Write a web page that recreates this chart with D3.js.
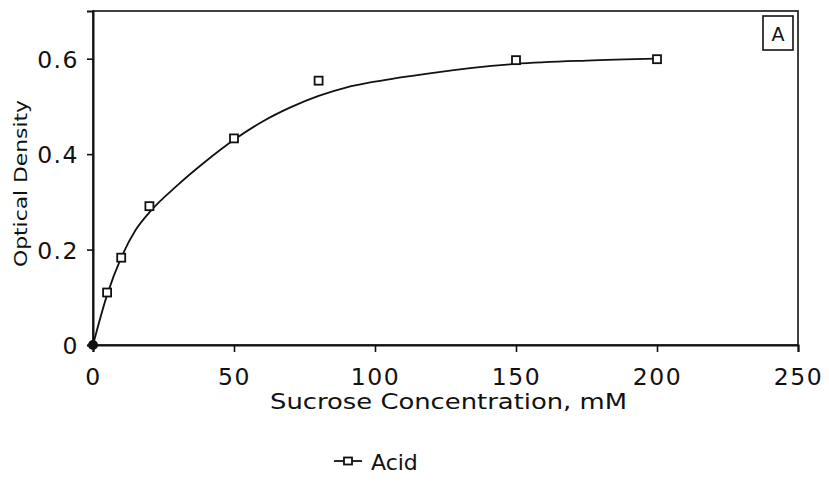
<!DOCTYPE html>
<html>
<head>
<meta charset="utf-8">
<script src="https://cdn.jsdelivr.net/npm/d3@7"></script>
<style>
  body { margin: 0; background: #fff; }
  text { font-family: "DejaVu Sans", sans-serif; fill: #111; }
</style>
</head>
<body>
<div id="chart"></div>
<script>
// measured points
var sucrose = [0, 5, 10, 20, 50, 80, 150, 200];
var density = [0, 0.11, 0.183, 0.291, 0.433, 0.554, 0.597, 0.599];

// fitted curve
var fitX = [0, 5, 10, 15, 20, 30, 40, 50, 60, 70, 80, 90, 100, 120, 150, 175, 200];
var fitY = [0, 0.105, 0.183, 0.24, 0.278, 0.335, 0.385, 0.43, 0.468, 0.498, 0.522, 0.54, 0.552, 0.57, 0.589, 0.596, 0.6];

var xTicks = [0, 50, 100, 150, 200, 250];
var yTicks = [0, 0.2, 0.4, 0.6];

var width = 829, height = 490;
var margin = {top: 11, right: 31, bottom: 145, left: 93};

var svg = d3.select("#chart").append("svg")
    .attr("width", width)
    .attr("height", height);

var x = d3.scaleLinear().domain([0, 250]).range([margin.left, width - margin.right]);
var y = d3.scaleLinear().domain([0, 0.7]).range([height - margin.bottom, margin.top]);

// frame
svg.append("rect")
    .attr("x", x(0)).attr("y", y(0.7))
    .attr("width", x(250) - x(0)).attr("height", y(0) - y(0.7))
    .attr("fill", "none").attr("stroke", "#111").attr("stroke-width", 1.6);

var xAxis = svg.append("g")
    .attr("transform", "translate(0," + y(0) + ")")
    .call(d3.axisBottom(x).tickValues(xTicks).tickSize(7).tickPadding(16).tickFormat(d3.format("d")));
var yAxis = svg.append("g")
    .attr("transform", "translate(" + x(0) + ",0)")
    .call(d3.axisLeft(y).tickValues(yTicks).tickSize(6).tickPadding(8).tickFormat(function (d) { return d === 0 ? "0" : d3.format(".1f")(d); }));

[xAxis, yAxis].forEach(function (g) {
    g.select(".domain").attr("stroke", "#111").attr("stroke-width", 2);
    g.selectAll(".tick line").attr("stroke", "#111").attr("stroke-width", 1.6);
    g.selectAll(".tick text")
        .attr("fill", "#111")
        .style("font-family", "DejaVu Sans, sans-serif")
        .style("font-size", "23.5px")
        .style("letter-spacing", "1.5px");
});
yAxis.selectAll(".tick text").attr("dy", "0.36em");

// axis titles
svg.append("text")
    .attr("x", 270)
    .attr("y", 409)
    .attr("textLength", 357)
    .attr("lengthAdjust", "spacingAndGlyphs")
    .style("font-size", "21px")
    .text("Sucrose Concentration, mM");

svg.append("text")
    .attr("transform", "translate(27,267) rotate(-90)")
    .attr("textLength", 167)
    .attr("lengthAdjust", "spacingAndGlyphs")
    .style("font-size", "17px")
    .text("Optical Density");

// fitted curve
var fitData = fitX.map(function (d, i) { return {x: d, y: fitY[i]}; });
var line = d3.line()
    .x(function (d) { return x(d.x); })
    .y(function (d) { return y(d.y); })
    .curve(d3.curveMonotoneX);

svg.append("path")
    .datum(fitData)
    .attr("d", line)
    .attr("fill", "none")
    .attr("stroke", "#111")
    .attr("stroke-width", 1.8);

// data markers
var pts = sucrose.map(function (d, i) { return {x: d, y: density[i]}; });
svg.selectAll(".pt")
    .data(pts.filter(function (d) { return d.x > 0; }))
    .enter().append("rect")
    .attr("class", "pt")
    .attr("x", function (d) { return x(d.x) - 4; })
    .attr("y", function (d) { return y(d.y) - 4; })
    .attr("width", 8).attr("height", 8)
    .attr("fill", "#fff").attr("stroke", "#111").attr("stroke-width", 1.8);

svg.append("circle")
    .attr("cx", x(pts[0].x)).attr("cy", y(pts[0].y))
    .attr("r", 5).attr("fill", "#111");

// panel label
svg.append("rect")
    .attr("x", 763).attr("y", 16).attr("width", 30).attr("height", 34)
    .attr("fill", "#fff").attr("stroke", "#111").attr("stroke-width", 1.6);
svg.append("text")
    .attr("x", 778).attr("y", 41)
    .attr("text-anchor", "middle")
    .style("font-size", "19px")
    .text("A");

// legend
var lg = svg.append("g").attr("transform", "translate(334,461)");
lg.append("line").attr("x1", 0).attr("x2", 28).attr("y1", 0).attr("y2", 0)
    .attr("stroke", "#111").attr("stroke-width", 1.8);
lg.append("rect").attr("x", 10).attr("y", -3.5).attr("width", 8).attr("height", 7)
    .attr("fill", "#fff").attr("stroke", "#111").attr("stroke-width", 1.8);
lg.append("text").attr("x", 37).attr("y", 9)
    .style("font-size", "22px")
    .text("Acid");
</script>
</body>
</html>
